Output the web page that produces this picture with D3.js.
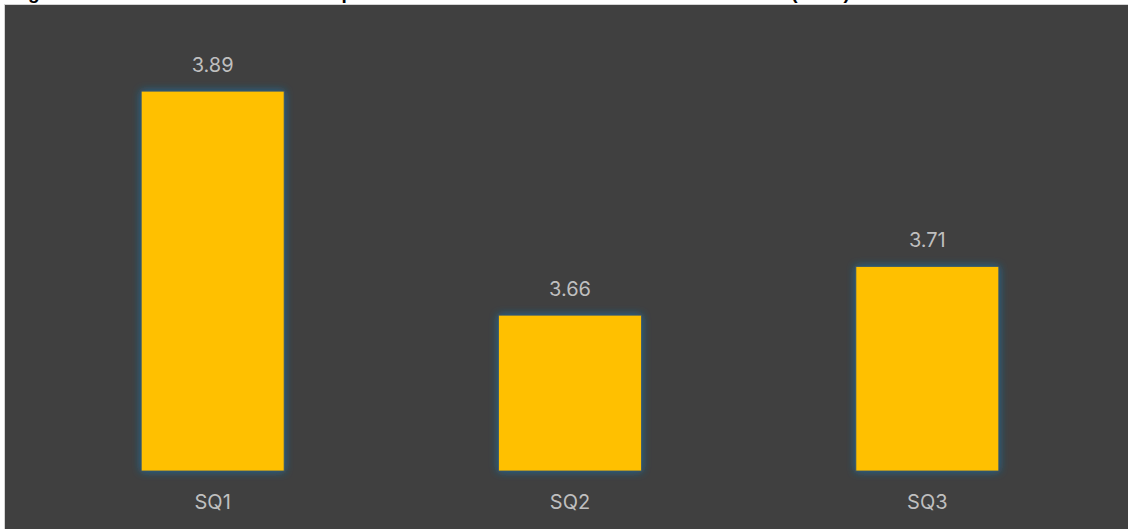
<!DOCTYPE html>
<html>
<head>
<meta charset="utf-8">
<script src="https://cdn.jsdelivr.net/npm/d3@7"></script>
<style>
  html, body { margin: 0; padding: 0; background: #ffffff; }
  svg { display: block; }
</style>
</head>
<body>
<svg id="chart" width="1128" height="529"></svg>
<script>
// Mean score per standard question
const categories = ["SQ1", "SQ2", "SQ3"];
const meanScores = [3.89, 3.66, 3.71];
const valueLabels = ["3.89", "3.66", "3.71"];
const chartTitle = "Figure 1. Mean Score of Student Responses across the Three Satisfaction Statements (N=30)";

const width = 1128, height = 529;
const svg = d3.select("#chart");

// Title sits above the panel
svg.append("text")
  .attr("x", 11)
  .attr("y", -1)
  .attr("font-family", "Liberation Sans, Arial, sans-serif")
  .attr("font-weight", "bold")
  .attr("font-size", 19)
  .attr("fill", "#000000")
  .text(chartTitle);

// Dark panel
svg.append("rect")
  .attr("x", 4.5)
  .attr("y", 4.5)
  .attr("width", width + 10)
  .attr("height", height + 10)
  .attr("fill", "#404040")
  .attr("stroke", "#d4d4d4")
  .attr("stroke-width", 1);

// Soft glow around bars
const defs = svg.append("defs");
const glow = defs.append("filter")
  .attr("id", "barGlow")
  .attr("x", "-20%").attr("y", "-20%")
  .attr("width", "140%").attr("height", "140%");
glow.append("feDropShadow")
  .attr("dx", 0).attr("dy", 0)
  .attr("stdDeviation", 4)
  .attr("flood-color", "#1f6a9a")
  .attr("flood-opacity", 1);

const x = d3.scaleBand()
  .domain(categories)
  .range([34, 1106])
  .paddingInner(0.6)
  .paddingOuter(0.3);

const y = d3.scaleLinear()
  .domain([3.5, 3.9])
  .range([471, 81.4]);

const data = categories.map((c, i) => ({ cat: c, value: meanScores[i], label: valueLabels[i] }));

svg.append("g")
  .selectAll("rect")
  .data(data)
  .join("rect")
  .attr("x", d => x(d.cat))
  .attr("y", d => y(d.value))
  .attr("width", x.bandwidth())
  .attr("height", d => y(3.5) - y(d.value))
  .attr("fill", "#FFC000")
  .attr("stroke", "#35556a")
  .attr("stroke-width", 0.8)
  .attr("filter", "url(#barGlow)");

// Value labels above bars
svg.append("g")
  .selectAll("text")
  .data(data)
  .join("text")
  .attr("x", d => x(d.cat) + x.bandwidth() / 2)
  .attr("y", d => y(d.value) - 19)
  .attr("text-anchor", "middle")
  .attr("font-family", "Inter, sans-serif")
  .attr("font-size", 20)
  .attr("fill", "#bfbfbf")
  .text(d => d.label);

// Category axis labels
const xAxis = d3.axisBottom(x).tickSize(0).tickPadding(0);
const axisG = svg.append("g")
  .attr("transform", `translate(0, ${y(3.5)})`)
  .call(xAxis);
axisG.select(".domain").remove();
axisG.selectAll("text")
  .attr("dy", 0)
  .attr("y", 38)
  .attr("font-family", "Inter, sans-serif")
  .attr("font-size", 20)
  .attr("fill", "#bfbfbf");
</script>
</body>
</html>
